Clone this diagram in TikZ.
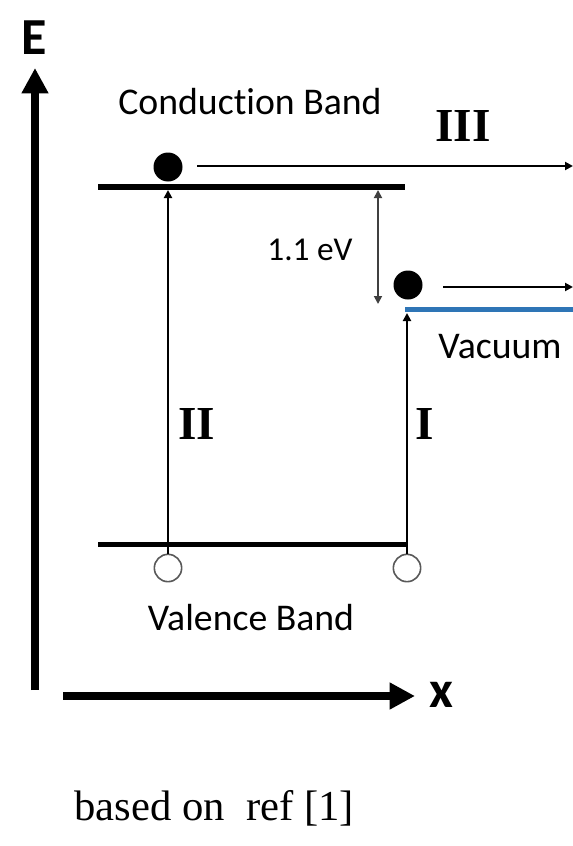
\documentclass[tikz,border=0pt]{standalone}
\usepackage{fontspec}
\setmainfont{Liberation Serif}
\setsansfont{Carlito}[Ligatures=NoCommon]
\newfontfamily\axfont{Carlito}[Ligatures=NoCommon]
\usetikzlibrary{arrows.meta}
\definecolor{vacblue}{HTML}{2E75B6}
\begin{document}
\begin{tikzpicture}[x=0.75pt,y=-0.75pt,
 lbl/.style={font=\sffamily\fontsize{28.3}{30}\selectfont, inner sep=0},
 roman/.style={font=\rmfamily\bfseries\fontsize{35.5}{38}\selectfont, inner sep=0},
 axlbl/.style={font=\axfont\bfseries\fontsize{39}{42}\selectfont, inner sep=0},
 axis/.style={line width=6pt, -{Triangle[length=19pt,width=19pt]}},
 band/.style={line width=4pt},
 thinarrow/.style={line width=1.5pt, -{Triangle[length=6pt,width=6pt]}},
 electron/.style={circle, fill=black, minimum size=21.75pt, inner sep=0},
 hole/.style={circle, draw=black!65, line width=1.2pt, fill=white, minimum size=20.5pt, inner sep=0}]
\useasboundingbox (0,0) rectangle (573,846);

% axes
\coordinate (eb) at (35,690);
\coordinate (et) at (35,68);
\draw[axis] (eb) -- (et);
\node[axlbl] (E) at (34,38) {E};
\coordinate (xl) at (63,696);
\coordinate (xr) at (415,696);
\draw[axis] (xl) -- (xr);
\node[axlbl] (X) at (441,695) {x};

% conduction band
\coordinate (cbl) at (98,187);
\coordinate (cbr) at (405,187);
\draw[band, line width=4.5pt] (cbl) -- (cbr);
\node[lbl] (cbt) at (250,102) {Conduction Band};
\node[electron] (e1) at (168,167) {};
\coordinate (e1s) at (197,166);
\coordinate (e1e) at (573,166);
\draw[thinarrow] (e1s) -- (e1e);
\node[roman] (III) at (463,126) {III};

% valence band
\coordinate (vbl) at (98,544);
\coordinate (vbr) at (407,544);
\draw[band, line width=3.75pt] (vbl) -- (vbr);
\node[hole] (h1) at (168,568) {};
\node[hole] (h2) at (407,568) {};
\node[lbl] (vbt) at (251,618) {Valence Band};

% transition II
\coordinate (c2) at (168,190);
\draw[thinarrow] (h1.north) -- (c2);
\node[roman] (II) at (197,424) {II};

% gap arrow
\coordinate (g1) at (378,190);
\coordinate (g2) at (378,304);
\draw[line width=1.3pt, black!75, {Triangle[length=6pt,width=6pt]}-{Triangle[length=6pt,width=6pt]}] (g1) -- (g2);
\node[lbl, font=\sffamily\fontsize{25}{28}\selectfont] (gap) at (310,250) {1.1 eV};

% vacuum
\coordinate (vl) at (405,309);
\coordinate (vr) at (573,309);
\draw[vacblue, line width=3.75pt] (vl) -- (vr);
\node[lbl] (vac) at (500,347) {Vacuum};
\node[electron] (e2) at (408,285) {};
\coordinate (e2s) at (443,287);
\coordinate (e2e) at (573,287);
\draw[thinarrow] (e2s) -- (e2e);

% transition I
\coordinate (c1) at (407,313);
\draw[thinarrow] (h2.north) -- (c1);
\node[roman] (I) at (425,424) {I};

% caption
\node[font=\rmfamily\fontsize{32}{36}\selectfont, inner sep=0, anchor=base] (cap) at (214,820) {based on\ \ ref [1]};
\end{tikzpicture}
\end{document}
